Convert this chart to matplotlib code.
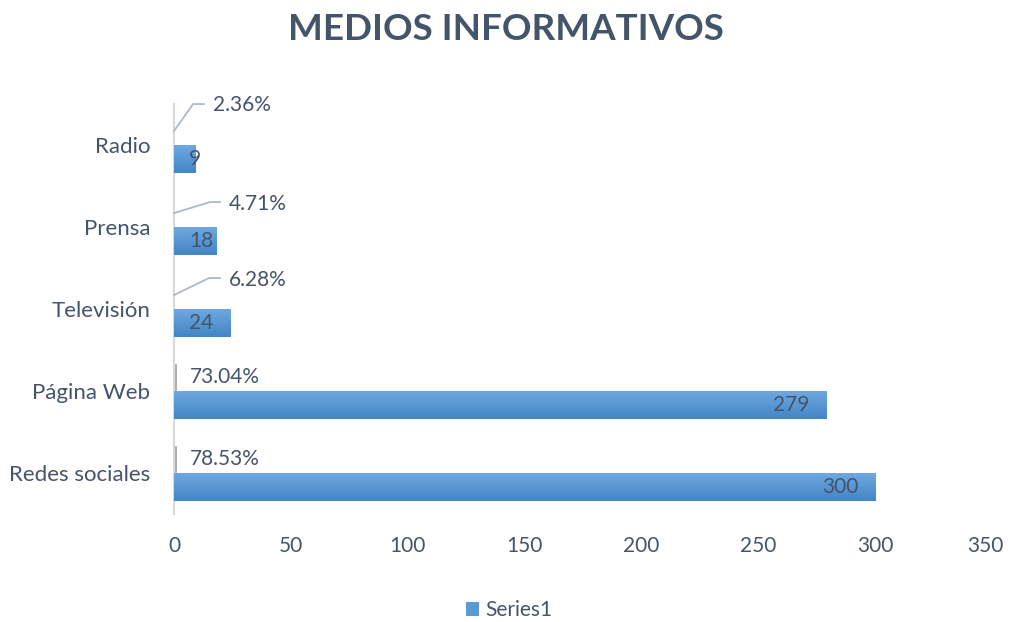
import matplotlib
matplotlib.use("Agg")
import matplotlib.pyplot as plt
import numpy as np
from matplotlib.patches import Patch
from matplotlib.colors import LinearSegmentedColormap
from matplotlib.transforms import ScaledTranslation

# ---- data ----
categories = ["Redes sociales", "Página Web", "Televisión", "Prensa", "Radio"]
values = [300, 279, 24, 18, 9]
percent_labels = ["78.53%", "73.04%", "6.28%", "4.71%", "2.36%"]
x_ticks = [0, 50, 100, 150, 200, 250, 300, 350]
title = "MEDIOS INFORMATIVOS"
series_name = "Series1"

# ---- style / layout ----
FONT = "Lato"
TEXT_C = "#44546A"
W, H = 1012, 622
fig = plt.figure(figsize=(W / 100, H / 100), dpi=100)
ax = fig.add_axes([174 / W, 1 - 514 / H, 818 / W, 410 / H])

bar_h = 0.34
off = 0.17
y = np.arange(len(categories))
bars = ax.barh(y - off, values, height=bar_h, color="#5B9BD5", zorder=2)

cmap = LinearSegmentedColormap.from_list("g", ["#4485C8", "#6EA8DE"])
grad = np.linspace(0, 1, 64).reshape(-1, 1)
for b in bars:
    x0, y0 = b.get_x(), b.get_y()
    im = ax.imshow(grad, cmap=cmap, origin="lower", aspect="auto",
                   extent=[x0, x0 + b.get_width(), y0, y0 + b.get_height()], zorder=3)
    im.set_clip_path(b)

ax.set_xlim(0, 350)
ax.set_ylim(-0.5, len(categories) - 0.5)
ax.set_xticks(x_ticks)
ax.set_yticks(y)
ax.set_yticklabels(categories)
ax.tick_params(axis="both", length=0, labelcolor=TEXT_C)
ax.tick_params(axis="x", pad=16, labelsize=15)
ax.tick_params(axis="y", pad=17, labelsize=16)
for lab in ax.get_xticklabels() + ax.get_yticklabels():
    lab.set_fontfamily(FONT)
# last x tick label nudged inward as in the reference
last = ax.get_xticklabels()[-1]
last.set_transform(last.get_transform() + ScaledTranslation(-7 / 100, 0, fig.dpi_scale_trans))
for s in ["top", "right", "bottom"]:
    ax.spines[s].set_visible(False)
ax.spines["left"].set_color("#D9D9D9")
ax.spines["left"].set_linewidth(1.5)

# value labels (inside end)
for yi, v in zip(y, values):
    if v >= 50:
        ax.annotate(str(v), (v, yi - off), xytext=(-17, 0), textcoords="offset pixels",
                    ha="right", va="center", fontsize=15, color=TEXT_C, family=FONT, zorder=5)
    else:
        ax.annotate(str(v), (0, yi - off), xytext=(15, 0), textcoords="offset pixels",
                    ha="left", va="center", fontsize=15, color=TEXT_C, family=FONT, zorder=5)

# percentage labels with leader lines (pixel offsets)
label_layout = {
    0: dict(label=(16, 0), line=None),
    1: dict(label=(16, 0), line=None),
    2: dict(label=(55, 15), line=[(0, 0), (35, 17), (46, 17)]),
    3: dict(label=(55, 9), line=[(0, 0), (36, 11), (46, 11)]),
    4: dict(label=(39, 26), line=[(0, 0), (19, 27), (30, 27)]),
}
for i, (yi, txt) in enumerate(zip(y, percent_labels)):
    lay = label_layout[i]
    ax.annotate(txt, (0, yi + off), xytext=lay["label"], textcoords="offset pixels",
                ha="left", va="center", fontsize=15, color=TEXT_C, family=FONT, zorder=5)
    ax_pt = ax.transData.transform((0, yi + off))
    if lay["line"] is None:
        xs = [ax_pt[0] + 1.5, ax_pt[0] + 1.5]
        ys = [ax_pt[1] - 12.5, ax_pt[1] + 12.5]
        col = "#A6A6A6"
    else:
        xs = [ax_pt[0] + p[0] for p in lay["line"]]
        ys = [ax_pt[1] + p[1] for p in lay["line"]]
        col = "#ADB9CA"
    ax.plot(xs, ys, transform=None, color=col, lw=1.3, zorder=4, clip_on=False)

fig.text(0.5, 1 - 30 / H, title, ha="center", va="center", fontsize=26.5,
         fontweight="bold", color=TEXT_C, family=FONT)

fig.legend(handles=[Patch(facecolor="#5B9BD5", edgecolor="none")], labels=[series_name],
           loc="center", bbox_to_anchor=(509 / W, 1 - 610 / H), frameon=False,
           handlelength=0.65, handleheight=0.65, handletextpad=0.3,
           prop=dict(family=FONT, size=15), labelcolor=TEXT_C)

fig.savefig("out.png", dpi=100)
